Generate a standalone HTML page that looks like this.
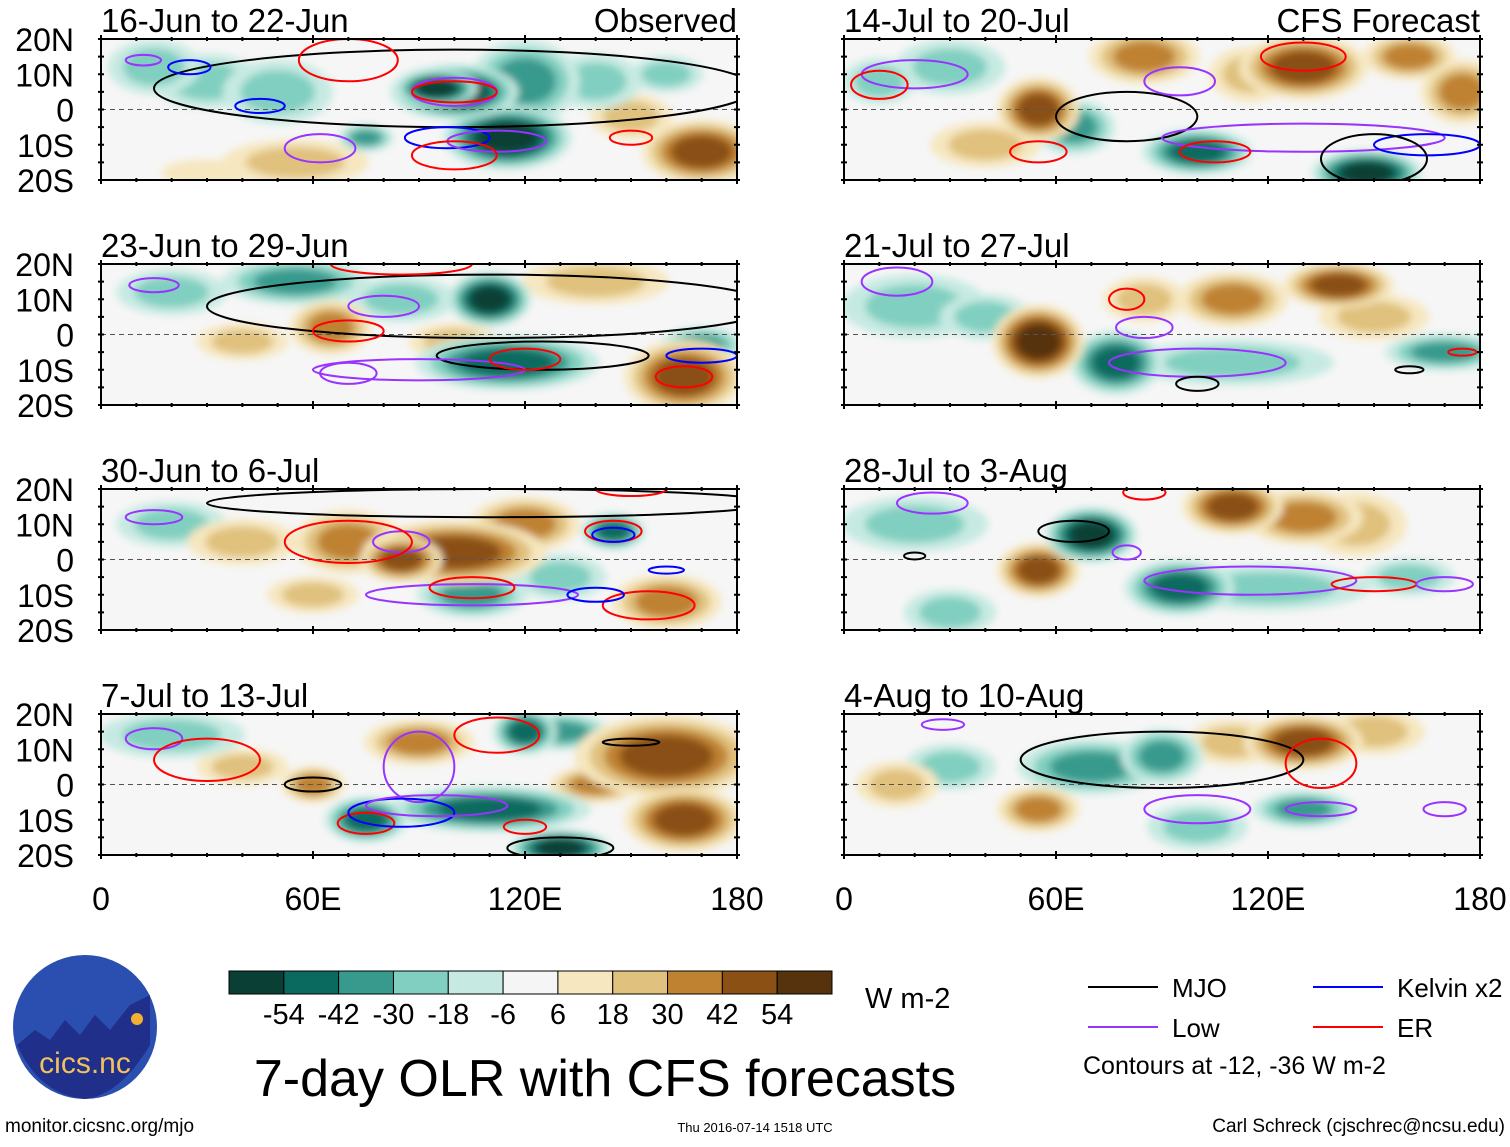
<!DOCTYPE html>
<html><head><meta charset="utf-8">
<style>
body{margin:0;background:#fff;font-family:"Liberation Sans",sans-serif;}
svg text{font-family:"Liberation Sans",sans-serif;}
</style></head>
<body>
<svg id="fig" width="1510" height="1142" viewBox="0 0 1510 1142" xmlns="http://www.w3.org/2000/svg">
<defs>
<filter id="blur" x="-20%" y="-20%" width="140%" height="140%"><feGaussianBlur stdDeviation="4"/></filter>
</defs>
<g id="panels"></g>
<g id="legend"></g>
</svg>
<script>
const panelTitles = ["16-Jun to 22-Jun","23-Jun to 29-Jun","30-Jun to 6-Jul","7-Jul to 13-Jul","14-Jul to 20-Jul","21-Jul to 27-Jul","28-Jul to 3-Aug","4-Aug to 10-Aug"];
const latTicks = ["20N","10N","0","10S","20S"];
const lonTicks = ["0","60E","120E","180"];
const cbLabels = ["-54","-42","-30","-18","-6","6","18","30","42","54"];
// blobs: [lon, lat, rxDeg, ryDeg, OLR anomaly]
const panelBlobs = [
 [[30,8,12,6,-12],[50,5,12,7,-18],[15,12,10,6,-12],[100,5,14,6,-54],[95,6,9,4,-54],[115,-8,14,7,-48],[120,8,12,9,-30],[170,-12,13,7,42],[150,-2,9,5,18],[55,-15,16,5,12],[30,-18,10,3,8],[140,8,10,6,-18],[160,10,8,4,-12],[75,-8,6,3,-30]],
 [[55,15,16,5,-30],[110,10,9,6,-48],[115,-8,20,6,-42],[20,12,12,5,-18],[65,2,9,6,30],[165,-12,13,8,42],[140,15,16,5,18],[85,10,12,5,-18],[170,-3,9,4,-30],[40,-2,10,4,12],[100,-2,10,4,18]],
 [[70,5,12,7,30],[100,2,20,7,42],[85,0,9,5,42],[105,-10,12,5,-30],[160,-12,12,6,30],[145,8,7,4,-42],[120,10,12,6,30],[40,5,12,5,18],[20,10,12,5,-12],[130,-5,10,5,-18],[60,-10,10,4,12]],
 [[120,15,7,5,-42],[110,-7,22,5,-42],[160,8,20,9,42],[165,-10,13,7,42],[75,-10,9,5,-42],[60,0,7,4,30],[130,15,11,4,-30],[20,14,16,5,-18],[130,-18,11,4,-48],[90,12,12,5,30],[40,5,10,4,12],[140,0,10,4,30]],
 [[55,0,9,7,42],[130,12,14,7,42],[85,15,12,6,30],[65,-5,9,6,-30],[100,-12,12,5,-42],[148,-18,12,5,-54],[175,5,9,7,30],[30,12,12,6,-18],[115,10,9,6,18],[10,8,8,5,-18],[160,15,10,5,30],[40,-10,12,5,12]],
 [[55,-2,10,8,54],[77,-8,10,7,-42],[110,10,12,6,30],[140,14,12,5,42],[170,-5,13,4,-30],[110,-8,22,5,-18],[85,10,9,5,18],[20,8,16,7,-12],[150,5,12,5,18],[40,5,10,5,-12]],
 [[70,7,10,6,-54],[55,-3,9,6,42],[95,-8,12,6,-42],[110,15,11,6,42],[130,12,13,6,30],[145,10,11,7,18],[120,-8,22,5,-18],[20,10,16,6,-12],[160,-5,10,4,-12],[30,-15,10,5,-12]],
 [[70,5,16,6,-30],[90,8,9,6,-30],[55,-7,9,5,30],[130,12,13,6,42],[150,15,11,5,18],[130,-7,11,4,-30],[100,-12,11,5,-18],[15,0,9,5,18],[110,12,10,5,18],[30,5,10,5,-12]]
];
// contours: [type, lon, lat, rxDeg, ryDeg]
const panelContours = [
 [["MJO",100,6,85,11],["Kelvin",25,12,6,2],["Kelvin",45,1,7,2],["Kelvin",98,-8,12,3],["Low",62,-11,10,4],["Low",100,5,12,4],["Low",112,-9,14,3],["ER",70,14,14,6],["ER",100,-13,12,4],["ER",100,5,12,3],["ER",150,-8,6,2],["Low",12,14,5,1.5]],
 [["MJO",110,8,80,9],["MJO",125,-6,30,4],["Low",15,14,7,2],["Low",90,-10,30,3],["Low",70,-11,8,3],["ER",70,1,10,3],["ER",85,20,20,3],["ER",120,-7,10,3],["ER",165,-12,8,3],["Kelvin",170,-6,10,2],["Low",80,8,10,3]],
 [["MJO",110,16,80,4],["Low",15,12,8,2],["Low",85,5,8,3],["Low",105,-10,30,3],["ER",70,5,18,6],["ER",105,-8,12,3],["ER",155,-13,13,4],["ER",145,8,8,3],["Kelvin",145,7,6,2],["Kelvin",140,-10,8,2],["Kelvin",160,-3,5,1],["ER",150,20,10,2]],
 [["Low",15,13,8,3],["Low",90,5,10,10],["ER",30,7,15,6],["ER",112,14,12,5],["ER",75,-11,8,3],["ER",120,-12,6,2],["Kelvin",85,-8,15,4],["Low",95,-6,20,3],["MJO",60,0,8,2],["MJO",130,-18,15,3],["MJO",150,12,8,1]],
 [["Low",20,10,15,4],["ER",10,7,8,4],["MJO",80,-2,20,7],["Low",95,8,10,4],["Low",130,-8,40,4],["ER",55,-12,8,3],["ER",105,-12,10,3],["ER",130,15,12,4],["Kelvin",165,-10,15,3],["MJO",150,-14,15,7]],
 [["Low",15,15,10,4],["ER",80,10,5,3],["Low",100,-8,25,4],["Low",85,2,8,3],["MJO",100,-14,6,2],["MJO",160,-10,4,1],["ER",175,-5,4,1]],
 [["Low",25,16,10,3],["MJO",65,8,10,3],["MJO",20,1,3,1],["Low",80,2,4,2],["Low",115,-6,30,4],["ER",150,-7,12,2],["ER",85,19,6,2],["Low",170,-7,8,2]],
 [["Low",28,17,6,1.5],["MJO",90,7,40,8],["ER",135,6,10,7],["Low",100,-7,15,4],["Low",135,-7,10,2],["Low",170,-7,6,2]]
];
const contourColor = {MJO:"#000000",Kelvin:"#0000ff",Low:"#9933ff",ER:"#ff0000"};
const cbColors = ["#0a3f36","#0b6a5f","#389a8d","#80cfc0","#c6eae2","#f5f5f5","#f6e7c0","#e0c17d","#bf8231","#8a5014","#56330d"];

const NS="http://www.w3.org/2000/svg";
function mk(tag,attrs,parent){const e=document.createElementNS(NS,tag);for(const k in attrs)e.setAttribute(k,attrs[k]);if(parent)parent.appendChild(e);return e;}
function colorFor(v){const i=Math.max(0,Math.min(10,Math.floor((v+66)/12)));return cbColors[i];}

const panelsG=document.getElementById('panels');
const PW=636, PH=141;
const colX=[101,844], rowY=[39,264,489,714];
for(let p=0;p<8;p++){
  const x0=colX[Math.floor(p/4)], y0=rowY[p%4];
  const xs=lon=>x0+lon/180*PW, ys=lat=>y0+(20-lat)/40*PH;
  const g=mk('g',{},panelsG);
  
  
  const cid='clip'+p;
  const cp=mk('clipPath',{id:cid},g);mk('rect',{x:x0,y:y0,width:PW,height:PH},cp);
  const inner=mk('g',{'clip-path':'url(#'+cid+')'},g);
  mk('rect',{x:x0,y:y0,width:PW,height:PH,fill:'#f6f6f6'},inner);
  const bg=mk('g',{filter:'url(#blur)'},inner);
  const blobs=panelBlobs[p].slice().sort((a,b)=>Math.abs(a[4])-Math.abs(b[4]));
  blobs.forEach(b=>{
    const steps=Math.floor(Math.abs(b[4])/12)+1;
    for(let s=1;s<=steps;s++){
      const v=Math.sign(b[4])*(s*12);
      const f=1.3*(1-(s-1)/steps*0.65);
      const e=mk('ellipse',{cx:xs(b[0]),cy:ys(b[1]),rx:b[2]/180*PW*f,ry:b[3]/40*PH*f,fill:colorFor(v)},bg);
      
      
    }
  });
  mk('line',{x1:x0,y1:ys(0),x2:x0+PW,y2:ys(0),stroke:'#555','stroke-dasharray':'5,4','stroke-width':1},inner);
  panelContours[p].forEach(c=>{
    const e=mk('ellipse',{cx:xs(c[1]),cy:ys(c[2]),rx:c[3]/180*PW,ry:c[4]/40*PH,fill:'none',stroke:contourColor[c[0]],'stroke-width':2},inner);
    
    
  });
  mk('rect',{x:x0,y:y0,width:PW,height:PH,fill:'none',stroke:'#000','stroke-width':2},g);
  for(let lon=0;lon<=180;lon+=10){
    const L=lon%60===0?8:4;
    mk('line',{x1:xs(lon),y1:y0-L/2,x2:xs(lon),y2:y0+L/2,stroke:'#000','stroke-width':2},g);
    mk('line',{x1:xs(lon),y1:y0+PH-L/2,x2:xs(lon),y2:y0+PH+L/2,stroke:'#000','stroke-width':2},g);
  }
  for(let lat=-20;lat<=20;lat+=5){
    mk('line',{x1:x0-3,y1:ys(lat),x2:x0+3,y2:ys(lat),stroke:'#000','stroke-width':2},g);
    mk('line',{x1:x0+PW-3,y1:ys(lat),x2:x0+PW+3,y2:ys(lat),stroke:'#000','stroke-width':2},g);
  }
  const t=mk('text',{x:x0,y:y0-7,'font-size':33},g);t.textContent=panelTitles[p];
  
  
  if(p===0||p===4){
    const r=mk('text',{x:x0+PW,y:y0-7,'font-size':33,'text-anchor':'end'},g);r.textContent=p===0?"Observed":"CFS Forecast";
    
    
  }
  if(p<4){
    latTicks.forEach((lt,i)=>{
      const tt=mk('text',{x:74,y:ys(20-i*10)+12,'font-size':32,'text-anchor':'end'},g);tt.textContent=lt;
      
      
    });
  }
  if(p%4===3){
    lonTicks.forEach((lt,i)=>{
      const tt=mk('text',{x:xs(i*60),y:910,'font-size':32,'text-anchor':'middle'},g);tt.textContent=lt;
      
      
    });
  }
}
const lg=document.getElementById('legend');
const cbX=229,cbW=603/11;
cbColors.forEach((c,i)=>{
  const r=mk('rect',{x:cbX+i*cbW,y:971,width:cbW,height:23,fill:c,stroke:'#000','stroke-width':1},lg);
  
  
});
cbLabels.forEach((l,i)=>{
  const t=mk('text',{x:cbX+(i+1)*cbW,y:1024,'font-size':29,'text-anchor':'middle'},lg);t.textContent=l;
  
  
});
function txt(x,y,s,str,name,anchor){const t=mk('text',{x:x,y:y,'font-size':s,'text-anchor':anchor||'start'},lg);t.textContent=str;return t;}
txt(865,1008,29,"W m-2","colorbar-units");
txt(605,1096,52,"7-day OLR with CFS forecasts","figure-title","middle");
txt(5,1132,19,"monitor.cicsnc.org/mjo","source-url");
txt(755,1132,13,"Thu 2016-07-14 1518 UTC","timestamp","middle");
txt(1505,1132,19,"Carl Schreck (cjschrec@ncsu.edu)","author","end");
const leg=[["MJO",1088,987],["Kelvin x2",1313,987],["Low",1088,1027],["ER",1313,1027]];
const legC=["#000","#0000ff","#9933ff","#ff0000"];
leg.forEach((l,i)=>{
  mk('line',{x1:l[1],y1:l[2],x2:l[1]+70,y2:l[2],stroke:legC[i],'stroke-width':2},lg);
  txt(l[1]+84,l[2]+10,26,l[0],'legend-entry');
});
txt(1083,1074,25,"Contours at -12, -36 W m-2","contour-note");
const logo=mk('g',{},lg);


mk('ellipse',{cx:85,cy:1027,rx:72,ry:72,fill:'#2a4fb0'},logo);
mk('path',{d:'M17 1045 L35 1030 L50 1040 L65 1020 L80 1035 L95 1015 L110 1030 L130 1005 L150 995 L150 1045 Q120 1095 85 1099 Q40 1095 17 1045Z',fill:'#1f2f8a'},logo);
mk('circle',{cx:137,cy:1019,r:6,fill:'#f4b030'},logo);
const lt=mk('text',{x:85,y:1073,'font-size':30,'text-anchor':'middle',fill:'#f2c060'},logo);lt.textContent="cics.nc";
</script>
</body></html>
